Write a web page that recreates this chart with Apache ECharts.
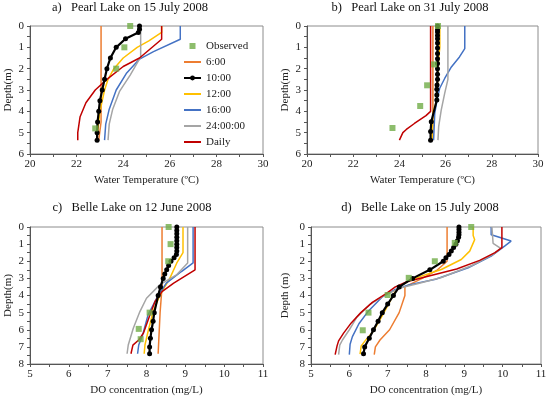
<!DOCTYPE html>
<html><head><meta charset="utf-8">
<script src="https://cdn.jsdelivr.net/npm/echarts@6/dist/echarts.min.js"></script>
<style>html,body{margin:0;padding:0;background:#fff}#c{width:550px;height:398px}</style>
</head><body><div id="c"></div>
<script>
// Names / labels
const seriesNames = ['Observed','6:00','10:00','12:00','16:00','24:00:00','Daily'];
const titles = ['a)   Pearl Lake on 15 July 2008','b)   Pearl Lake on 31 July 2008','c)   Belle Lake on 12 June 2008','d)   Belle Lake on 15 July 2008'];
const xNames = ['Water Temperature (ºC)','Water Temperature (ºC)','DO concentration (mg/L)','DO concentration (mg/L)'];
const yNames = ['Depth(m)','Depth(m)','Depth(m)','Depth (m)'];

// Panel a: [value, depth]
const a_obs = [[24.3,0],[24.05,1.0],[23.7,2.0],[22.8,4.8]];
const a_6 = [[23.05,0],[23.05,4.5],[22.95,5.35]];
const a_10 = [[24.7,0],[24.7,0.15],[24.65,0.3],[24.1,0.6],[23.7,1.0],[23.45,1.5],[23.3,2.0],[23.2,2.5],[23.1,3.0],[23.0,3.5],[22.95,4.0],[22.9,4.5],[22.88,5.0],[22.88,5.35]];
const a_12 = [[25.65,0],[25.65,0.3],[25.1,0.7],[24.6,1.0],[24.0,1.5],[23.6,2.0],[23.35,2.5],[23.2,3.0],[23.0,4.0],[22.9,5.0],[22.85,5.35]];
const a_16 = [[26.45,0],[26.45,0.62],[25.3,1.2],[24.7,1.55],[24.15,2.2],[23.7,3.0],[23.4,3.9],[23.25,4.6],[23.2,5.35]];
const a_24 = [[24.75,0],[24.75,1.45],[24.3,2.3],[23.85,3.05],[23.55,3.9],[23.4,4.6],[23.35,5.35]];
const a_daily = [[25.65,0],[25.65,0.62],[24.7,1.5],[24.0,1.9],[23.3,2.5],[22.8,3.0],[22.4,3.6],[22.15,4.25],[22.05,5.0],[22.05,5.35]];

// Panel b
const b_obs = [[25.67,0],[25.5,1.8],[25.2,2.78],[24.9,3.75],[23.7,4.78]];
const b_6 = [[25.45,0],[25.45,5.35]];
const b_10 = [[25.65,0],[25.65,0.17],[25.65,0.28],[25.65,0.44],[25.65,0.6],[25.65,0.8],[25.65,1.03],[25.65,1.29],[25.65,1.53],[25.65,1.76],[25.65,2.0],[25.65,2.26],[25.65,2.5],[25.63,2.77],[25.62,2.97],[25.62,3.24],[25.62,3.47],[25.38,4.49],[25.35,4.95],[25.35,5.35]];
const b_12 = [[25.75,0],[25.75,1.0],[25.7,1.5],[25.66,2.5],[25.62,3.5],[25.47,4.0],[25.42,5.0],[25.42,5.35]];
const b_16 = [[26.83,0],[26.83,1.06],[26.6,1.45],[26.25,1.92],[25.96,2.46],[25.74,2.93],[25.63,3.47],[25.53,4.1],[25.48,5.35]];
const b_24 = [[26.1,0],[26.1,2.5],[25.96,3.16],[25.81,3.94],[25.7,4.72],[25.67,5.35]];
const b_daily = [[25.35,0],[25.35,4.0],[25.15,4.2],[24.65,4.57],[24.3,4.85],[24.15,5.0],[24.0,5.35]];

// Panel c
const c_obs = [[8.57,0],[8.62,1.0],[8.56,2.0],[8.08,5.0],[7.8,5.95],[7.85,6.55]];
const c_6 = [[8.4,0],[8.4,3.5],[8.35,5.0],[8.3,7.4]];
const c_10 = [[8.78,0],[8.78,0.2],[8.78,0.4],[8.78,0.6],[8.78,0.8],[8.78,1.0],[8.78,1.2],[8.78,1.4],[8.77,1.6],[8.71,1.8],[8.63,2.0],[8.57,2.25],[8.52,2.5],[8.47,2.75],[8.43,3.0],[8.36,3.5],[8.3,4.0],[8.2,5.0],[8.17,5.5],[8.13,6.0],[8.1,6.5],[8.08,7.0],[8.08,7.4]];
const c_12 = [[8.94,0],[8.94,1.5],[8.78,2.1],[8.6,3.0],[8.35,3.96],[8.17,4.94],[8.04,6.1],[7.96,6.89],[7.94,7.4]];
const c_16 = [[9.2,0],[9.2,2.1],[8.9,2.6],[8.51,3.28],[8.26,4.16],[8.04,5.13],[7.9,6.3],[7.8,6.89],[7.77,7.4]];
const c_24 = [[9.06,0],[9.06,2.1],[8.77,2.8],[8.34,3.38],[8.0,4.16],[7.83,4.94],[7.66,5.91],[7.53,6.89],[7.5,7.4]];
const c_daily = [[9.25,0],[9.25,2.5],[8.7,3.28],[8.4,3.77],[8.22,4.35],[8.09,5.13],[7.92,6.2],[7.8,6.6],[7.65,6.9],[7.6,7.4]];

// Panel d
const d_obs = [[9.18,0],[8.75,0.93],[8.23,2.0],[7.55,2.97],[7.0,3.97],[6.5,5.0],[6.35,6.03]];
const d_6 = [[8.55,0],[8.55,2.0],[8.3,2.5],[7.9,3.0],[7.45,3.5],[7.45,4.0],[7.3,5.0],[7.05,6.0],[6.8,6.6],[6.68,7.0],[6.65,7.45]];
const d_10 = [[8.86,0],[8.86,0.15],[8.86,0.3],[8.86,0.45],[8.85,0.6],[8.82,0.8],[8.78,1.0],[8.72,1.2],[8.66,1.4],[8.6,1.6],[8.52,1.8],[8.45,2.0],[8.1,2.5],[7.65,3.0],[7.3,3.5],[7.15,4.0],[7.0,4.5],[6.86,5.0],[6.75,5.5],[6.63,6.0],[6.52,6.5],[6.4,7.0],[6.37,7.4]];
const d_12 = [[9.23,0],[9.23,0.5],[9.27,0.74],[9.14,1.41],[8.92,1.9],[8.66,2.19],[8.4,2.48],[7.88,2.87],[7.54,3.16],[7.28,3.51],[7.15,3.93],[7.02,4.52],[6.83,5.29],[6.63,6.07],[6.41,6.65],[6.31,6.94],[6.28,7.42]];
const d_16 = [[9.7,0],[9.7,0.45],[9.85,0.55],[10.22,0.82],[10.05,1.12],[9.7,1.7],[9.1,2.38],[8.25,3.05],[7.55,3.38],[7.2,3.65],[6.85,4.1],[6.5,4.9],[6.25,5.65],[6.08,6.4],[6.02,6.85],[6.0,7.45]];
const d_24 = [[9.72,0],[9.75,0.95],[9.95,1.25],[9.75,1.6],[9.2,2.25],[8.4,2.95],[7.8,3.3],[7.35,3.55],[6.95,3.95],[6.55,4.5],[6.2,5.25],[6.0,6.0],[5.82,6.6],[5.75,6.9],[5.72,7.45]];
const d_daily = [[9.98,0],[9.98,1.2],[9.8,1.5],[9.4,1.95],[8.8,2.45],[8.0,2.9],[7.5,3.2],[7.2,3.5],[6.95,3.9],[6.6,4.4],[6.3,5.0],[6.05,5.6],[5.85,6.2],[5.72,6.65],[5.68,6.94],[5.63,7.45]];

// Axis ranges
const xMins = [20,20,5,5], xMaxs = [30,30,11,11], xSteps = [2,2,1,1];
const yMaxs = [6,6,8,8];

const panels = [
  [a_obs,a_6,a_10,a_12,a_16,a_24,a_daily],
  [b_obs,b_6,b_10,b_12,b_16,b_24,b_daily],
  [c_obs,c_6,c_10,c_12,c_16,c_24,c_daily],
  [d_obs,d_6,d_10,d_12,d_16,d_24,d_daily]
];

const colors = ['#70AD47','#ED7D31','#000000','#FFC000','#4472C4','#A5A5A5','#C00000'];
const FONT = '"Liberation Serif", "DejaVu Serif", serif';
const grids = [
  {left:30, top:26, width:233, height:128},
  {left:307, top:26, width:231, height:128},
  {left:30, top:227, width:233, height:137},
  {left:311, top:227, width:230, height:137}
];
const titlePos = [[130,0],[410,0],[132,200],[420,200]];

const legendData = seriesNames.map((n,k)=>{
  if (k===0) return {name:n, icon:'path://M0,0L1,0L1,1L0,1Z'};
  if (k===2) return {name:n};
  return {name:n, itemStyle:{color:'rgba(0,0,0,0)', opacity:0, borderWidth:0}};
});

const option = {
  animation:false,
  backgroundColor:'#fff',
  title: titles.map((t,i)=>({text:t, left:titlePos[i][0], top:titlePos[i][1], textAlign:'center', padding:0,
    textStyle:{fontFamily:FONT, fontSize:12.5, fontWeight:'normal', color:'#111', lineHeight:15}})),
  grid: grids.map(g=>Object.assign({show:true, borderColor:'#8c8c8c', borderWidth:1, containLabel:false}, g)),
  legend: {
    orient:'vertical', left:183, top:40, padding:0, itemWidth:17, itemHeight:6, itemGap:4,
    symbolKeepAspect:true,
    data: legendData,
    textStyle:{fontFamily:FONT, fontSize:11, color:'#222', lineHeight:12}
  },
  xAxis: grids.map((g,i)=>({
    type:'value', gridIndex:i, min:xMins[i], max:xMaxs[i], interval:xSteps[i],
    name:xNames[i], nameLocation:'middle', nameGap:21,
    nameTextStyle:{fontFamily:FONT, fontSize:11, color:'#222'},
    axisLine:{show:true, onZero:false, lineStyle:{color:'#555'}},
    axisTick:{show:true, length:3, lineStyle:{color:'#555'}},
    minorTick:{show:true, splitNumber:2, length:3, lineStyle:{color:'#555'}},
    splitLine:{show:false},
    axisLabel:{fontFamily:FONT, fontSize:11, color:'#222', margin:5}
  })),
  yAxis: grids.map((g,i)=>({
    type:'value', gridIndex:i, min:0, max:yMaxs[i], interval:1, inverse:true,
    name:yNames[i], nameLocation:'middle', nameGap:i===3?20:16, nameRotate:90,
    nameTextStyle:{fontFamily:FONT, fontSize:11, color:'#222'},
    axisLine:{show:true, onZero:false, lineStyle:{color:'#555'}},
    axisTick:{show:true, length:3, lineStyle:{color:'#555'}},
    minorTick:{show:true, splitNumber:2, length:3, lineStyle:{color:'#555'}},
    splitLine:{show:false},
    axisLabel:{fontFamily:FONT, fontSize:11, color:'#222', margin:6}
  })),
  series: []
};

panels.forEach((arrs, p)=>{
  const order = [1,3,4,5,6,2,0];
  order.forEach((k, zi)=>{
    const name = seriesNames[k];
    const s = {name, xAxisIndex:p, yAxisIndex:p, data:arrs[k], z:2+zi};
    if (k===0) {
      Object.assign(s, {type:'scatter', symbol:'rect', symbolSize:6, itemStyle:{color:colors[0]}});
    } else if (k===2) {
      Object.assign(s, {type:'line', symbol:'circle', symbolSize:5, showSymbol:true,
        itemStyle:{color:'#000'}, lineStyle:{color:'#000', width:2.2}});
    } else {
      Object.assign(s, {type:'line', symbol:'none', lineStyle:{color:colors[k], width:1.5}, itemStyle:{color:colors[k]}});
    }
    option.series.push(s);
  });
});

const chart = echarts.init(document.getElementById('c'), null, {renderer:'canvas'});
chart.setOption(option);
</script>
</body></html>
